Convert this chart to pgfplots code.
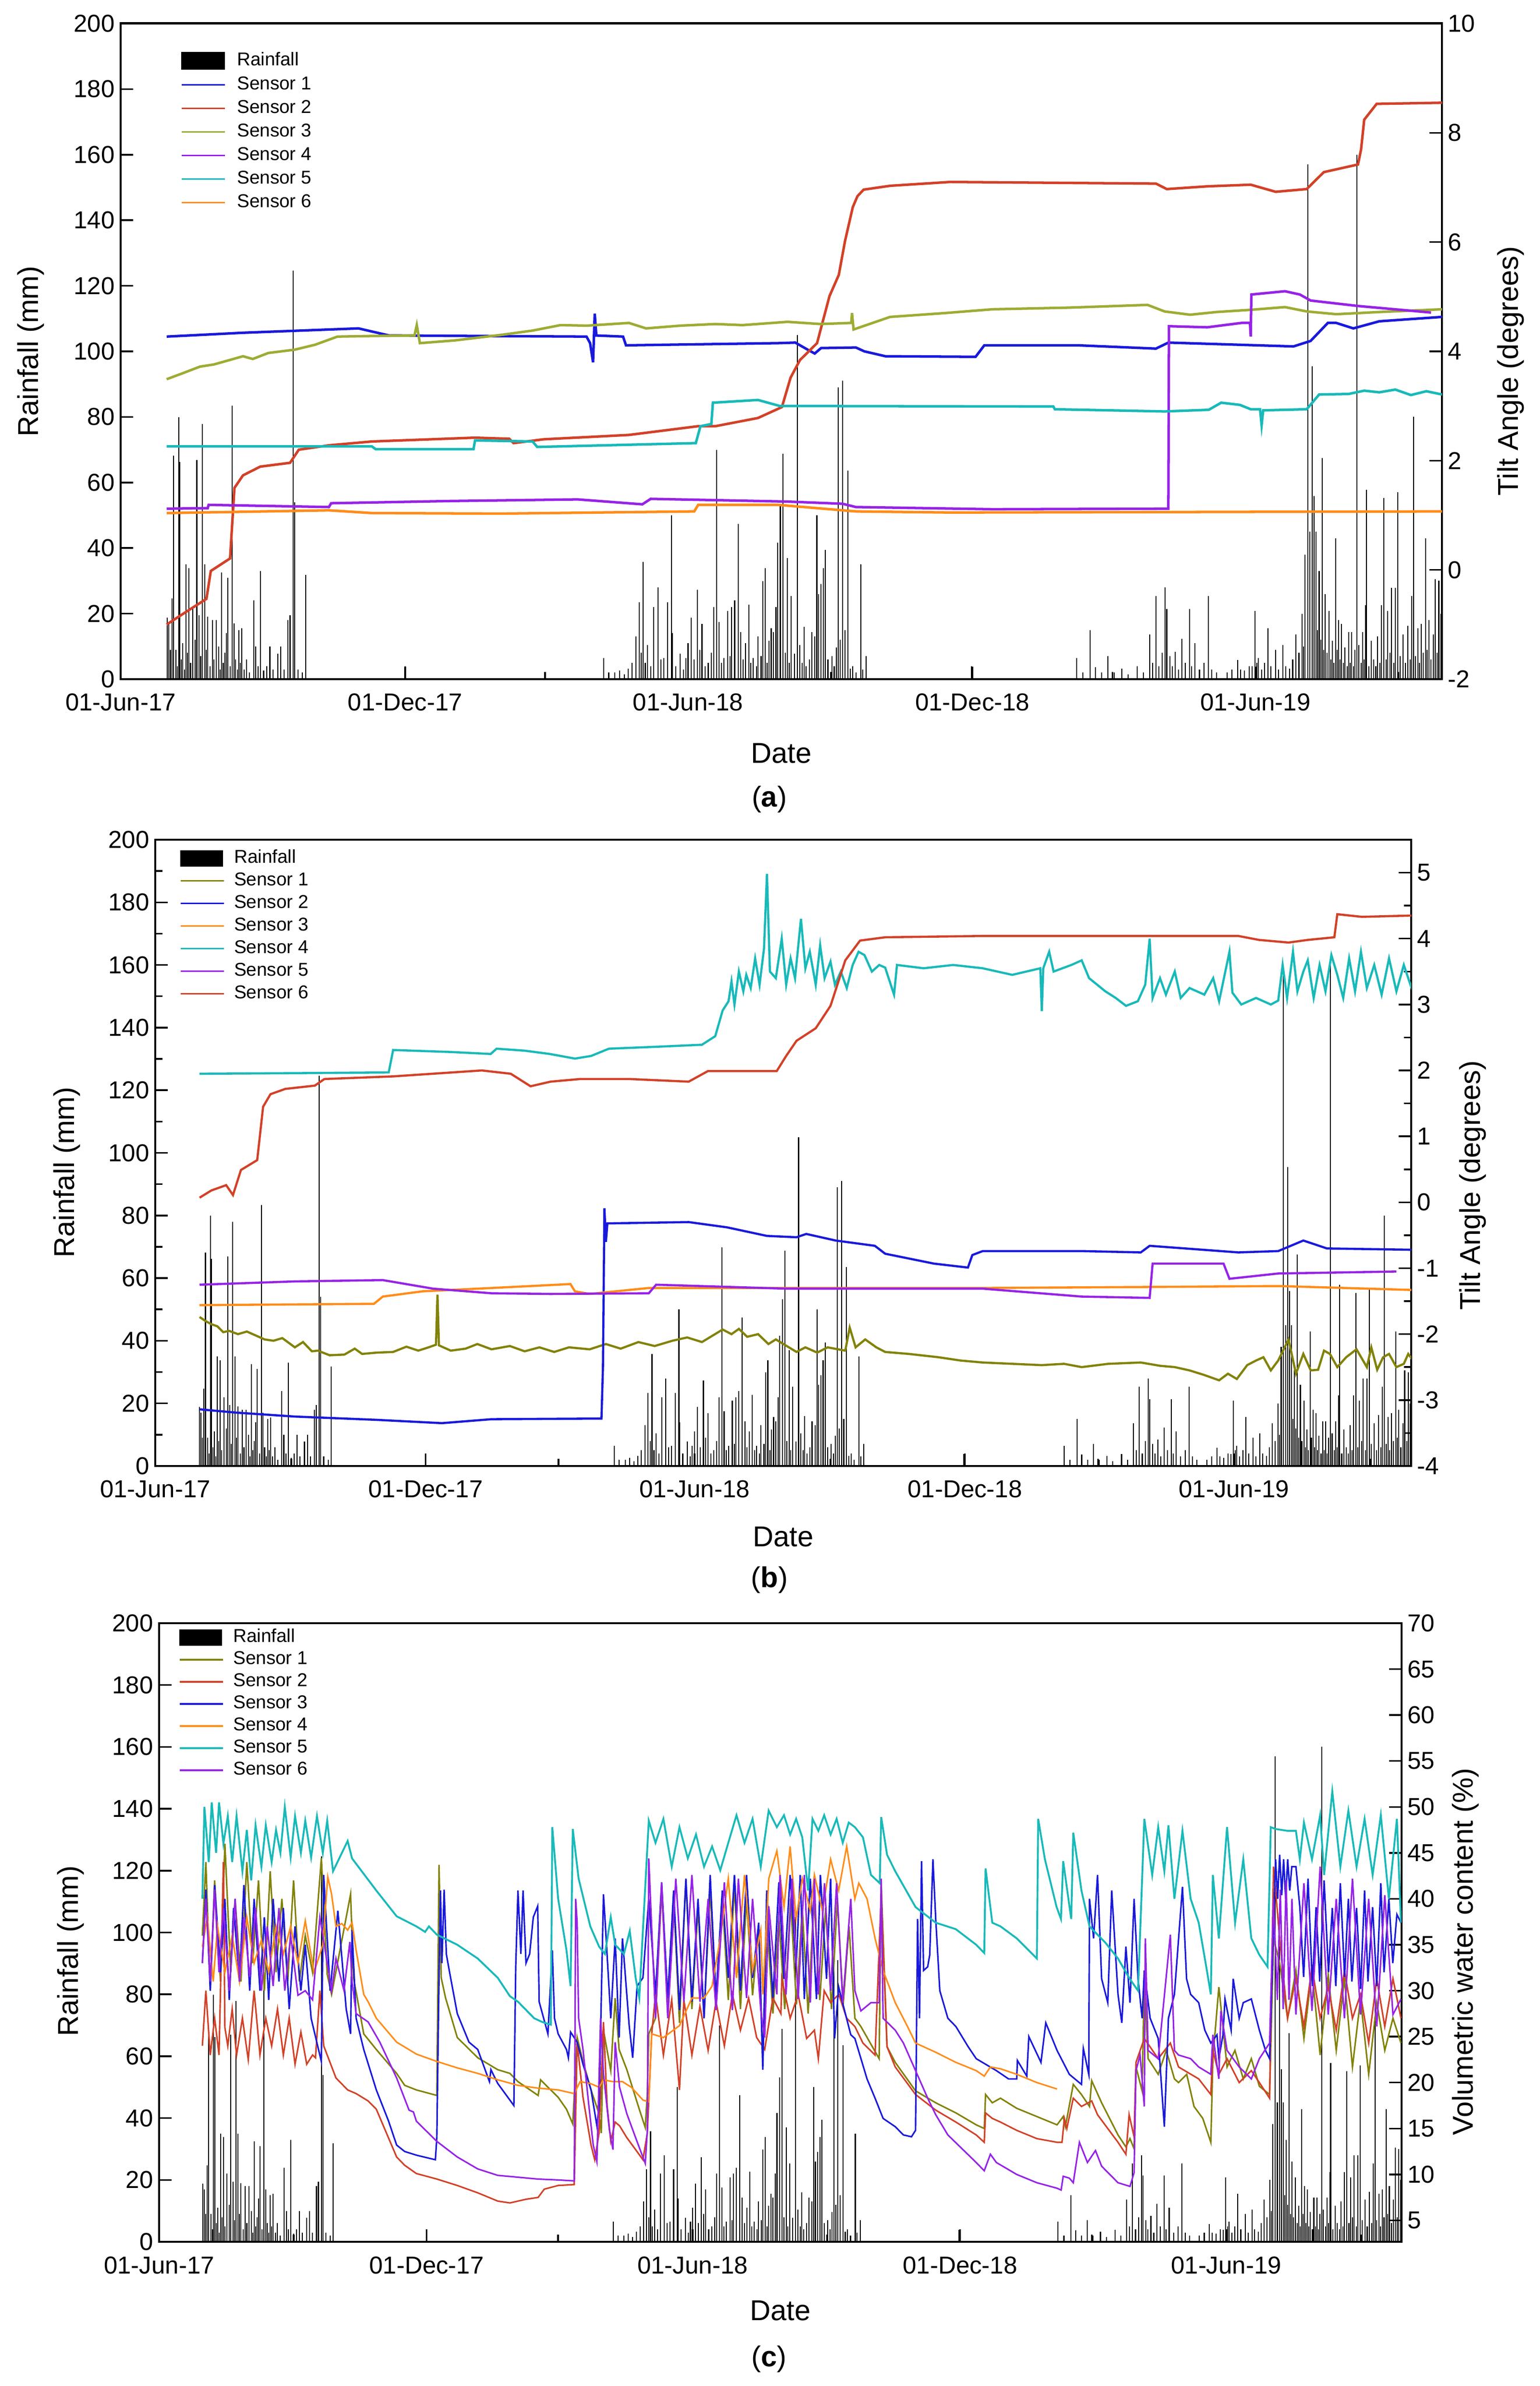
\documentclass[border=0pt]{standalone}
\usepackage{fontspec}
\setmainfont{Liberation Sans}
\usepackage{pgfplots}
\usepackage{pgfplotstable}
\pgfplotsset{compat=1.18}
\definecolor{cBlue}{RGB}{25,25,220}
\definecolor{cRed}{RGB}{210,65,40}
\definecolor{cGreen}{RGB}{158,172,52}
\definecolor{cPurple}{RGB}{150,35,230}
\definecolor{cCyan}{RGB}{25,185,185}
\definecolor{cOrange}{RGB}{255,140,25}
\definecolor{cOlive}{RGB}{130,130,10}

\pgfplotstableread{
day mm
30 18.8
31 17
32 9
33 24.7
34 68.2
35.5 9
36.5 4
37.3 79.9
38 66.2
39 6
40 11
41 3
42 35
43 8
44 33.8
45 5
46.5 22
48 12
49 66.9
50.5 19.5
51.5 7
52.5 77.9
54 35
55 9
56 19
57.5 4
59 18
60 6
61.5 18
63 10
64 3
65 32.5
66 5
67 8
68 14
69 31
70.5 4
71.8 83.4
73 17
74 6
75 3
76 15
77 5
78 15.5
79.5 3
81 6
83 2
85.6 24
87 10
88.5 4
90 33
92 2.6
94 4
96 10
98 3
101 7.8
103 10
105 3
107.7 18
109 19.5
111 124.7
112 54
114 3
117 2
119 31.8
183 4
273 2
310.8 6.5
314 2
318 2
321 2.6
324 1.5
326.5 3.2
329 5
331.5 13
333.5 23.4
335 8
336.2 35.7
337.5 5
339 10.4
341 4
343 22
345.6 28
347.5 6
349.5 6.5
352 23.4
354.4 50
355 14
357 4
360 7.8
362 3
363.5 6.5
365 11
367 18.8
369 6
371 27.3
372.5 9
374 16.9
376 4
378 5
380 8
381.5 22
383.4 69.9
385 17.5
386.5 5
388 6.5
390.5 20.8
392 7
393 22
395 24
397.2 47.4
399 14.3
400.5 6
402 11
404 22.7
405.5 5
407 6.5
409 4
410 13
412 7
413 29.9
414.6 33.8
416 5
417 11.7
418.5 15.6
420 14.3
421.6 22
422.7 41.6
424.4 53.2
426.2 68.8
427.5 8
429 37
430 5
431.3 25.3
433.5 7.8
435.4 105
437 10.4
438.5 5
439.6 16
441 4
443 6
444.5 14.3
446.5 13
447.9 50
449 26
450.6 29
452 33.8
453.4 39.5
455 6
457.5 7
459 4
460.3 9.6
461.7 89
463 12
464.4 91
466 15
467.8 63.6
469.4 3.2
471 4
473 2
476.3 35
477.5 3
479.6 7
547.3 3.9
615 6.5
619 2
623.8 15
627 3.7
631 2
635 7
639 2
644 3.2
648 1.5
654 3.9
658 2
662 13.6
664 5
666 25.3
668 4
670 8
672 28
673 21.4
675 7
676.5 4
678.5 8.4
680.5 3
682.7 12.3
685 5
687.6 21.4
689 4
691 11
694 3
697 5
699.8 25.3
702 3
705 2
711.7 2
715 3
718.6 5.8
720.5 3
723 2.6
726 4
728 3.9
729.6 20.8
731 5
732 6.5
734 3
736 5
738 15.6
740 4
743 9
745 3
747.6 10.4
749.5 4
752 3.2
754 6
756 13.6
758 8
760 20
761 10
762 38
763.6 157
765 45
766.4 95.5
767.7 55.8
769 45
770 15
771 33
772 12
773 67.5
774 9
775 26
776 8
777.4 20.8
778.5 6
779.5 11.7
780.5 5
781.6 42.9
782.5 9
783.5 18
784.5 6
785.5 16.9
786.5 5
787.5 9.7
789 4
790 14.3
791 5
792 14.3
793 4
794 9
795.4 160
796.5 10.4
798 5
799 14.3
800 6
801 22.6
801.5 57.8
803 4
804.5 11.7
806 6
807.5 4
808.6 13
810 5
811 22.6
812.5 55.2
814 6
815 20.8
816.5 8
817.5 27.9
819 5
820 27.9
821.6 57
823 7
825 13.6
826.5 5
828 16.2
829.5 6
830.5 25.3
831.8 80
833 7
834.5 15.6
835.5 5
836.7 16.9
838 8
839.6 42.9
840.5 9
841.6 18
843 6
844.4 13.6
845.6 30.5
847 8
848 30
849.3 20
}\rain

\pgfplotsset{
  panel/.style={scale only axis, xmin=0, xmax=850, clip mode=individual,
    /pgf/number format/assume math mode=true,
    tick align=inside, major tick length=2.6mm, minor tick length=1.5mm,
    tick style={black, line width=1pt},
    tick label style={font=\fontsize{14.5}{17}\selectfont},
    label style={font=\fontsize{17}{20}\selectfont},
    axis line style={line width=1.4pt},
    no markers},
  rainaxis/.style={panel, ymin=0, ymax=200, ytick={0,20,...,200}, ytick pos=left, xtick pos=left,
    xtick={0,183,365,548,730},
    xticklabels={01-Jun-17,01-Dec-17,01-Jun-18,01-Dec-18,01-Jun-19},
    xticklabel style={yshift=-1.8mm},
    minor xtick={92,273,457,638,822}, xlabel={Date}, ylabel={Rainfall (mm)}},
  lineaxis/.style={panel, axis y line*=right, axis x line=none, legend cell align=left,
    legend image code/.code={\draw[##1,line width=0.9pt] (0mm,0mm) -- (9mm,0mm);}},
  rainplot/.style={ycomb, black, line width=0.6pt},
}

\begin{document}
\begin{tikzpicture}
\useasboundingbox (0,0) rectangle (320.4mm,496.4mm);

% ================= panel (a) =================
\begin{axis}[rainaxis, at={(25.1mm,355.1mm)}, anchor=south west,
  width=274.9mm, height=136.4mm,
  xlabel style={at={(axis description cs:0.5,-0.113)}, anchor=center},
  ylabel style={at={(axis description cs:-0.068,0.5)}, anchor=center}]
\addplot[rainplot] table {\rain};
\node[font=\fontsize{17}{20}\selectfont] at (axis description cs:0.491,-0.183) {(\textbf{a})};
\end{axis}
\begin{axis}[lineaxis, at={(25.1mm,355.1mm)}, anchor=south west,
  width=274.9mm, height=136.4mm, ymin=-2, ymax=10, ytick={-2,0,...,10},
  ylabel={Tilt Angle (degrees)},
  ylabel style={at={(axis description cs:1.052,0.47)}, anchor=center},
  legend style={at={(axis description cs:0.0455,0.9567)}, anchor=north west, draw=none, fill=none,
    inner sep=0pt, outer sep=0pt, font=\fontsize{11}{13}\selectfont, row sep=1.3mm,
    nodes={inner sep=0pt, text height=2.8mm, text depth=0.8mm},
    /tikz/every odd column/.style={column sep=2.4mm}}]
\addlegendimage{legend image code/.code={\fill[black] (0mm,-1.8mm) rectangle (9mm,1.8mm);}}
\addlegendentry{Rainfall}
\addplot[cBlue, line width=1.5pt] coordinates {(29.6,4.27) (78.7,4.34) (153,4.42) (172.7,4.29) (299.7,4.27) (302,4.15) (303.9,3.80) (305,4.69) (306,4.29) (323.2,4.27) (325.1,4.11) (423,4.15) (434,4.16) (442,4.03) (446.5,3.96) (450.6,4.06) (473,4.07) (478.4,4.00) (492,3.91) (550,3.90) (555.6,4.11) (616,4.11) (666,4.05) (674,4.16) (754.5,4.09) (765.5,4.19) (776.6,4.52) (782,4.52) (793,4.42) (809.7,4.55) (850,4.63)};
\addlegendentry{Sensor 1}
\addplot[cRed, line width=1.5pt] coordinates {(29.6,-1.00) (44.2,-0.73) (55.2,-0.53) (58,-0.02) (70.4,0.21) (73.2,1.50) (78.7,1.73) (89.8,1.89) (109,1.96) (114.6,2.20) (134,2.28) (161.6,2.35) (227.9,2.42) (250,2.40) (252.8,2.32) (272,2.39) (327,2.47) (371.5,2.63) (382.6,2.63) (410,2.78) (425.4,2.98) (431,3.52) (437,3.84) (448,4.15) (456,5.01) (462,5.40) (466,6.02) (471,6.64) (474,6.84) (478,6.96) (495,7.03) (533.5,7.10) (666,7.07) (673,6.97) (699,7.02) (727,7.05) (743,6.92) (763,6.97) (774,7.28) (796,7.42) (798,7.7) (800,8.24) (808,8.53) (850,8.55)};
\addlegendentry{Sensor 2}
\addplot[cGreen, line width=1.5pt] coordinates {(29.6,3.49) (40,3.6) (51,3.72) (60,3.76) (78.7,3.91) (85,3.86) (95,3.97) (111.9,4.03) (125,4.12) (139.5,4.27) (160,4.28) (189,4.29) (190.5,4.48) (192.5,4.15) (215,4.2) (244.5,4.30) (265,4.38) (283,4.48) (300,4.47) (327,4.52) (338,4.42) (360,4.47) (382.6,4.50) (400,4.48) (429,4.54) (450,4.5) (470,4.52) (470.5,4.70) (471.5,4.40) (495,4.63) (530,4.7) (561,4.77) (610,4.8) (660.6,4.85) (671.6,4.73) (688,4.67) (705,4.72) (727,4.76) (749,4.81) (763,4.73) (782,4.68) (810,4.72) (850,4.77)};
\addlegendentry{Sensor 3}
\addplot[cPurple, line width=1.5pt] coordinates {(29.6,1.12) (56,1.13) (56.6,1.19) (134,1.15) (135.4,1.22) (211,1.26) (294,1.29) (335.6,1.20) (341,1.30) (429,1.25) (464.4,1.21) (473,1.15) (561,1.11) (671.6,1.12) (674,1.12) (674.4,4.46) (699,4.44) (721,4.52) (726.5,4.52) (727,4.27) (727.4,5.04) (749,5.10) (758.6,5.04) (765.5,4.93) (796,4.83) (843,4.71)};
\addlegendentry{Sensor 4}
\addplot[cCyan, line width=1.5pt] coordinates {(29.6,2.26) (161.6,2.26) (164,2.21) (227,2.21) (228,2.37) (265,2.35) (268,2.25) (370,2.32) (373,2.63) (380,2.67) (381,3.06) (410,3.11) (424,3.00) (600,2.99) (601,2.94) (671.6,2.90) (700,2.93) (708,3.06) (720,3.02) (727,2.94) (733,2.94) (734,2.65) (735,2.92) (763,2.94) (771,3.21) (790,3.22) (800,3.28) (809.7,3.25) (820,3.3) (830,3.2) (840,3.27) (850,3.21)};
\addlegendentry{Sensor 5}
\addplot[cOrange, line width=1.5pt] coordinates {(29.6,1.04) (134,1.09) (161.6,1.04) (244,1.03) (369,1.07) (371.5,1.19) (423,1.19) (473,1.07) (533.5,1.05) (850,1.07)};
\addlegendentry{Sensor 6}
\end{axis}

% ================= panel (b) =================
\begin{axis}[rainaxis, at={(32.3mm,191.4mm)}, anchor=south west,
  width=261.3mm, height=130.3mm, minor y tick num=1,
  xlabel style={at={(axis description cs:0.5,-0.113)}, anchor=center},
  ylabel style={at={(axis description cs:-0.0704,0.469)}, anchor=center}]
\addplot[rainplot] table {\rain};
\node[font=\fontsize{17}{20}\selectfont] at (axis description cs:0.489,-0.182) {(\textbf{b})};
\end{axis}
\begin{axis}[lineaxis, at={(32.3mm,191.4mm)}, anchor=south west,
  width=261.3mm, height=130.3mm, ymin=-4, ymax=5.5, ytick={-4,-3,...,5}, minor y tick num=1,
  ylabel={Tilt Angle (degrees)},
  ylabel style={at={(axis description cs:1.049,0.448)}, anchor=center},
  legend style={at={(axis description cs:0.0195,0.984)}, anchor=north west, draw=none, fill=none,
    inner sep=0pt, outer sep=0pt, font=\fontsize{11}{13}\selectfont, row sep=1.1mm,
    nodes={inner sep=0pt, text height=2.8mm, text depth=0.8mm},
    /tikz/every odd column/.style={column sep=2.0mm}}]
\addlegendimage{legend image code/.code={\fill[black] (0mm,-1.6mm) rectangle (8.8mm,1.6mm);}}
\addlegendentry{Rainfall}
\addplot[cOlive, line width=1.3pt] coordinates {(30,-1.74) (34,-1.80) (38,-1.85) (42,-1.88) (46,-1.97) (50,-1.95) (56,-2.0) (62,-1.96) (68,-2.02) (74,-2.08) (80,-2.1) (86,-2.06) (94.5,-2.20) (100,-2.12) (106,-2.26) (110,-2.25) (118,-2.32) (128,-2.31) (135,-2.22) (140,-2.3) (150,-2.28) (161,-2.27) (170,-2.19) (178,-2.25) (185,-2.2) (190,-2.16) (191,-1.40) (192,-2.17) (200,-2.25) (210,-2.22) (218,-2.15) (227.6,-2.23) (240,-2.18) (250,-2.26) (260,-2.2) (270,-2.27) (280,-2.2) (294,-2.23) (305,-2.15) (315,-2.22) (327,-2.12) (338,-2.18) (350,-2.1) (360,-2.05) (370,-2.12) (384,-1.93) (390,-2.0) (395,-1.92) (400.6,-2.04) (408,-2.0) (415,-2.15) (420,-2.08) (434,-2.27) (440,-2.2) (448,-2.28) (455,-2.2) (467,-2.25) (470,-1.9) (474,-2.2) (480.5,-2.08) (488,-2.2) (494,-2.27) (510,-2.3) (530,-2.35) (545,-2.4) (560,-2.43) (580,-2.45) (600,-2.47) (615,-2.45) (627,-2.50) (645,-2.45) (667,-2.43) (680,-2.48) (690,-2.5) (700,-2.55) (710,-2.62) (720,-2.70) (726,-2.6) (732,-2.68) (739,-2.47) (745,-2.4) (750,-2.35) (755,-2.55) (760,-2.4) (767,-2.08) (772,-2.6) (777,-2.3) (782,-2.55) (787,-2.54) (791,-2.25) (795,-2.3) (800,-2.5) (806,-2.35) (813,-2.23) (820,-2.5) (823,-2.2) (827,-2.54) (831,-2.35) (835,-2.3) (840,-2.5) (845,-2.45) (848,-2.3) (851,-2.39)};
\addlegendentry{Sensor 1}
\addplot[cBlue, line width=1.3pt] coordinates {(30,-3.14) (54.6,-3.19) (94.5,-3.25) (150,-3.3) (194,-3.35) (227.6,-3.29) (302,-3.28) (303,-2.5) (304,-0.09) (305,-0.6) (306,-0.32) (361,-0.30) (387,-0.38) (414,-0.51) (434,-0.53) (440.6,-0.48) (460.5,-0.58) (487,-0.66) (494,-0.78) (527,-0.93) (550,-0.99) (553,-0.8) (560,-0.74) (627,-0.74) (667,-0.76) (673,-0.66) (733,-0.76) (760,-0.74) (777,-0.58) (793,-0.70) (851,-0.72)};
\addlegendentry{Sensor 2}
\addplot[cOrange, line width=1.3pt] coordinates {(30,-1.56) (148,-1.54) (154,-1.43) (181,-1.35) (227.6,-1.30) (281,-1.24) (284,-1.35) (294,-1.39) (334,-1.30) (560,-1.30) (700,-1.28) (760,-1.27) (851,-1.33)};
\addlegendentry{Sensor 3}
\addplot[cCyan, line width=1.3pt] coordinates {(30,1.95) (100,1.96) (158,1.97) (161,2.31) (200,2.28) (227,2.25) (231,2.33) (250,2.30) (267,2.25) (284,2.18) (295,2.22) (307,2.33) (340,2.36) (370,2.39) (379,2.52) (384,2.91) (388,3.05) (390,3.35) (392,3.0) (395,3.5) (398,3.2) (400,3.45) (403,3.25) (406,3.7) (409,3.3) (412,3.85) (414,4.98) (416,3.5) (420,3.4) (424,4.0) (427,3.3) (430,3.7) (433,3.4) (437,4.3) (440,3.55) (443,3.8) (447,3.3) (450,3.9) (453,3.4) (457,3.65) (460,3.3) (464,3.5) (468,3.25) (472,3.6) (476,3.8) (480,3.75) (485,3.5) (490,3.6) (494,3.56) (500,3.15) (502,3.6) (520,3.55) (540,3.6) (560,3.55) (580,3.45) (599,3.55) (600,2.9) (601,3.55) (605,3.8) (608,3.5) (620,3.6) (627,3.67) (632,3.4) (643,3.2) (650,3.1) (657,2.98) (665,3.05) (670,3.3) (673,4.0) (675,3.1) (680,3.4) (684,3.15) (690,3.5) (694,3.1) (700,3.25) (710,3.15) (716,3.4) (720,3.05) (727,3.8) (729,3.18) (735,3.0) (745,3.1) (755,3.0) (760,3.06) (763,3.6) (766,3.1) (770,3.8) (773,3.2) (777,3.5) (780,3.67) (784,3.1) (788,3.6) (792,3.2) (796,3.75) (800,3.45) (804,3.1) (808,3.7) (812,3.2) (816,3.8) (820,3.25) (825,3.6) (830,3.15) (835,3.7) (840,3.2) (845,3.6) (851,3.2)};
\addlegendentry{Sensor 4}
\addplot[cPurple, line width=1.3pt] coordinates {(30,-1.25) (94.5,-1.20) (154,-1.18) (188,-1.31) (227.6,-1.38) (267.5,-1.39) (334,-1.38) (339,-1.25) (427,-1.31) (560,-1.31) (627,-1.43) (673,-1.45) (675,-0.93) (723,-0.93) (727,-1.16) (760,-1.08) (840,-1.05)};
\addlegendentry{Sensor 5}
\addplot[cRed, line width=1.3pt] coordinates {(30,0.07) (38,0.18) (48,0.26) (52.6,0.11) (58,0.49) (69,0.64) (73,1.45) (78,1.64) (88,1.72) (108,1.77) (114.5,1.87) (161,1.91) (221,2.00) (240.6,1.95) (254,1.76) (267.5,1.83) (287.5,1.87) (321,1.87) (361,1.83) (374,1.99) (420.6,1.99) (427,2.22) (434,2.45) (447,2.64) (457,2.98) (467,3.67) (477,3.97) (494,4.02) (560,4.04) (733,4.04) (747,3.98) (767,3.94) (780,3.98) (798,4.02) (800,4.37) (816.6,4.33) (851,4.35)};
\addlegendentry{Sensor 6}
\end{axis}

% ================= panel (c) =================
\begin{axis}[rainaxis, at={(33.1mm,30.0mm)}, anchor=south west,
  width=258.5mm, height=128.7mm,
  xlabel style={at={(axis description cs:0.5,-0.111)}, anchor=center},
  ylabel style={at={(axis description cs:-0.0712,0.47)}, anchor=center}]
\addplot[rainplot] table {\rain};
\node[font=\fontsize{17}{20}\selectfont] at (axis description cs:0.491,-0.19) {(\textbf{c})};
\end{axis}
\begin{axis}[lineaxis, at={(33.1mm,30.0mm)}, anchor=south west,
  width=258.5mm, height=128.7mm, ymin=2.67, ymax=70, ytick={5,10,...,70},
  ylabel={Volumetric water content (\%)},
  ylabel style={at={(axis description cs:1.0515,0.469)}, anchor=center},
  legend style={at={(axis description cs:0.0159,0.9907)}, anchor=north west, draw=none, fill=none,
    inner sep=0pt, outer sep=0pt, font=\fontsize{11}{13}\selectfont, row sep=1.0mm,
    nodes={inner sep=0pt, text height=2.8mm, text depth=0.8mm},
    /tikz/every odd column/.style={column sep=2.0mm}}]
\addlegendimage{legend image code/.code={\fill[black] (0mm,-1.6mm) rectangle (8.8mm,1.6mm);}}
\addlegendentry{Rainfall}
\addplot[cOlive, line width=0.9pt] coordinates {(29.6,36) (32,44) (35,30) (38,42) (42,31) (45,46) (49,32) (52,40) (56,31) (60,44) (64,33) (68,42) (72,30) (76,43) (80,32) (84,40) (88,31) (92,42) (96,31) (100,36) (105,32) (111,44.4) (115,31.8) (118,29.6) (131,40.5) (133,31.4) (140,25.3) (148.6,23.6) (162.5,21) (168,19.7) (176,19.2) (190,18.6) (191.5,43.7) (193,31.4) (196,29.2) (204,24.9) (218,22.7) (231.7,21.4) (240,21) (245.5,20.1) (259.3,18.6) (261,20.3) (266,19.5) (273,18.4) (278.7,17.1) (283,15.5) (286,24.9) (290,22.3) (295.5,19.2) (301,16.6) (302.5,14.5) (304,25.7) (309,21.3) (312,29.2) (314.7,23.6) (320,21.4) (328.5,17.1) (332.6,15.1) (334,18.8) (335,25.3) (339.6,27) (343.8,41) (348,28) (352,40) (356,26.5) (360.4,42) (364.5,28) (368.7,39) (372.8,27) (377,41) (381,28.5) (385.3,40) (389.4,29) (393.6,41.5) (397.7,28) (401.9,40) (406,29.5) (410.2,37) (413,22) (415.7,38) (419.9,27.5) (424,38) (428,28) (432,40) (436,28.5) (440,39) (444,27.5) (448,40) (452,29) (456,39) (460,28) (464,40) (468,28.5) (472,37) (476,27) (480.1,26.1) (492.6,22.6) (494,41.7) (498,23.9) (503.6,22.2) (517.5,19.1) (531.3,17.8) (545.1,16.7) (559,15.4) (564.5,15) (565.4,18.7) (570,17.8) (575.6,18.3) (586.7,17.2) (600.5,16.3) (614.3,15.4) (618.5,16.3) (620,15.2) (625.4,19.8) (631,18.7) (636.5,17.4) (638,20.2) (644.8,17.8) (656,14.3) (661.4,13) (664.2,13.9) (667,12.8) (668.3,21.7) (672.5,19.1) (674,31.3) (676.6,22.6) (683.5,20.9) (689,23.5) (694.6,20.4) (697.4,20) (703,20.9) (708,17.4) (714,16.1) (719.5,13.5) (720.9,22.6) (725,30.4) (730.6,21.7) (736,23.5) (741.7,20.4) (747.2,22.6) (752.7,19.6) (759.7,18.7) (762.4,35.7) (766.6,33) (772,27) (777.7,32.2) (783.2,24.8) (788.7,32.2) (794.3,23) (799.8,31.7) (805.3,23.5) (810.9,31.3) (816.4,21.7) (821.9,29.1) (827.5,20.9) (833,28.7) (838.5,23.5) (844.1,27) (849.6,24.3)};
\addlegendentry{Sensor 1}
\addplot[cRed, line width=0.9pt] coordinates {(29.6,24) (32,30) (35,23) (38,27) (41,23) (44,44) (45,26) (47,24) (50,28) (53,23) (57,27) (61,22.5) (65,30) (69,23) (73,27) (77,24) (81,28) (85,23) (89,27) (93,22) (97,25.5) (101,22) (105,23) (107,22.7) (110,30) (112.6,24) (121,20.5) (129,19.2) (134.8,18.8) (143,18) (148.6,17.1) (162.5,11.9) (168,11) (176,10.1) (190,9.5) (204,8.8) (218,8) (231.7,7.1) (240,6.9) (251,7.3) (259.3,7.5) (263.5,8.4) (273,8.8) (284,8.9) (286,24.4) (290,18.4) (295.5,13.2) (298,11.6) (301,14.5) (304,26.6) (306.5,17.5) (309,13.6) (312,15.7) (315,15.3) (320,14) (326,12.7) (331,11.6) (334,14.5) (337,25.3) (339.6,29.6) (345,23) (350.7,29) (356,19.2) (359,29) (364.5,23) (370,28.3) (375.6,23.5) (381,28.8) (386.7,24) (392.2,29.6) (397.7,25.7) (403.3,29.2) (408.8,24.9) (414.3,23.6) (419.9,29.2) (425.4,27.5) (426,31.3) (431.7,27) (437.2,29.6) (443,24.8) (448.3,25.7) (451,22.6) (455,30) (459.4,28.7) (465,29.6) (470.4,27) (476,26.1) (481.5,24.3) (489.8,23) (494,40.4) (498,23.9) (503.6,21.7) (517.5,18.7) (531.3,17) (545.1,15.7) (559,14.3) (564.5,13.5) (565.4,16.7) (570,16.1) (575.6,15.7) (586.7,14.8) (600.5,13.9) (614.3,13.5) (617.7,13.5) (619.3,16.1) (621,15) (625.4,18.3) (631,17.4) (638,18) (642,16.5) (656,13.5) (661.4,12.2) (663.6,16.5) (667,14.1) (668.3,22.2) (674,24.8) (683.5,22.6) (691.8,24.3) (697.4,21.7) (711.2,20.4) (719.5,18.7) (720.9,23.5) (725,20.9) (730.6,22.6) (738.9,20) (747.2,21.3) (752.7,20) (759.7,18.3) (762.4,43.5) (766.6,35.7) (772,27) (777.7,31.3) (783.2,26.1) (788.7,32.6) (794.3,27) (799.8,30.4) (805.3,25.7) (810.9,32.2) (816.4,27) (821.9,29.6) (827.5,24.3) (833,31.3) (838.5,26.1) (844.1,31.3) (849.6,27)};
\addlegendentry{Sensor 2}
\addplot[cBlue, line width=0.9pt] coordinates {(29.6,33) (32,41) (35,30) (38,41.5) (42,32) (45,40) (48,29) (51,39) (55,31) (58,41.5) (62,30) (65,40) (69,30) (72,38) (75,29) (78,40) (82,31) (85,39) (89,28) (93,37) (97,30) (100,35) (104,27) (111,22.3) (112.6,42.6) (117,30) (122.3,38.7) (128,28) (131,25.3) (132,36.6) (134.8,27) (140,23.6) (148.6,19.2) (157,15.8) (162.5,13.2) (168,12.5) (176,12.1) (189,11.6) (190,14) (191.5,31.4) (192.5,40.9) (193.5,33) (195,41) (196.5,34) (198.5,32.2) (204,27.5) (212,24.4) (218,23.6) (226,20.1) (227,21.4) (231.7,19.9) (242.7,17.5) (244,32.7) (245.5,40.9) (247.5,34) (249,40.9) (251,33) (253.5,34) (256,38) (259,39.2) (260,28.8) (266,25.3) (269,34.4) (270.5,27) (273,25.3) (278.7,23.6) (280,22.7) (281.5,25.5) (286,24.4) (290,22) (295.5,19.2) (299.5,15.3) (301,17.5) (304,40.5) (305.5,36.6) (309,27) (312,35.7) (314.7,24.9) (317,35.7) (321.6,26.2) (324,22.7) (327,30.5) (331,31.4) (335,40) (339.6,29.6) (343.8,41.8) (348,29.2) (352,40.9) (356,27.9) (360.4,42.2) (364.5,28.8) (368.7,40) (372.8,27) (377,42.6) (381,29.2) (385.3,40.9) (389.4,31.4) (393.6,42.6) (397.7,30) (401.9,42.6) (406,31.4) (410.2,37.4) (413,21.4) (415.7,40.9) (419.9,29.2) (424,41.8) (427.5,31.3) (431.7,42.6) (435.8,32.6) (438.6,42.6) (441.4,29.1) (445.5,42.2) (449.7,29.1) (452.4,42.6) (456.6,31.3) (459.4,42.2) (462.1,24.8) (464.9,30.4) (469,27.8) (473.2,25.2) (476,24.8) (484.3,20.4) (489.8,18.3) (495.3,16.1) (503.6,15.2) (509.2,14.3) (514.7,14.1) (517.5,14.8) (518.9,37.8) (520.2,27) (521.6,44.1) (523,32.2) (525.8,32.6) (527.2,33.9) (529.4,44.3) (531.3,37.8) (534.1,30) (539.6,27) (545.1,26.1) (553.5,23.9) (559,22.6) (572.8,21.3) (581.1,20.4) (586.7,20.4) (587.2,22.4) (593.6,20.7) (595,25) (603.3,22.2) (606.6,26.5) (614.3,23.5) (622.7,20.9) (631,19.8) (632.3,23.7) (636,20.9) (636.5,40) (639.3,35.7) (642,42.6) (644.8,31.3) (649,28.7) (651.7,40.9) (656,29.6) (658.6,26.5) (661.4,34.8) (664.2,28.7) (667,40) (669.7,31.3) (672.5,27) (674,32.2) (678,27) (683.5,24.8) (687.7,15.2) (690.5,27) (694.6,29.6) (700.1,41.3) (702.9,31.3) (705.7,29.6) (711.2,28.7) (715.4,25.7) (719.5,24.3) (723.7,25.2) (725,22.6) (727.8,25.2) (729.2,29.1) (733.4,25.7) (734.8,31.3) (738.9,27) (741.7,28.7) (747.2,29.1) (752.7,25.7) (756.9,23.5) (759.7,22.6) (763.8,44.3) (765.2,40) (766.6,44.8) (768,40.4) (769.3,44.3) (770.7,40) (772.1,44.3) (773.5,40.9) (774.9,43.5) (777.7,43.5) (780.4,39.1) (783,31.5) (786,42.2) (789,30.5) (791.5,39.1) (794,31) (797,42) (800,32) (802.6,39) (805,30.5) (808.1,41.7) (811,31.5) (813.6,40) (816,31) (819.2,39) (822,30.2) (824.7,40.9) (827,31) (830.2,39.1) (833,30.5) (835.8,41.7) (838,32) (841.3,40) (844,33) (846.8,38.3) (849.6,37.4)};
\addlegendentry{Sensor 3}
\addplot[cOrange, line width=0.9pt] coordinates {(29.6,34.8) (33,38) (37,31) (40,37) (45,32) (50,36) (55,31) (60,38) (65,33) (70,35.5) (75,32) (80,37) (85,34) (90,37) (95,33) (100,37.6) (106,32) (112,35) (115.4,42.4) (118,40.5) (121,37) (125,37.3) (129,36.6) (132,37.4) (134.8,34.4) (140,29.6) (143,28.8) (148.6,27) (162.5,24.4) (176,23.1) (190,22.3) (204,21.6) (218,21) (231.7,20.3) (245.5,19.7) (259,19.4) (273,19.2) (284,18.8) (288,20.1) (295,19.9) (301,19.5) (304,20.3) (310.5,20.1) (317,20.1) (323,19.5) (331,18.1) (335,17.9) (337,25.3) (345,24.9) (356,26.2) (364.5,29.2) (372.8,29.2) (378.3,30.5) (383.9,35.7) (389.4,42.2) (395,31.4) (400.5,42.6) (406,32.2) (411.6,36.6) (413,29.6) (417.1,42.2) (422.6,45.2) (423.4,44.3) (427.5,39.1) (431.7,45.7) (435.8,37.8) (440,42.2) (445.5,38.7) (448.3,42.6) (453.8,38.7) (459.4,44.3) (464.9,40.9) (470.4,45.7) (476,40) (478.7,41.7) (484.3,40) (489.8,35.7) (495.3,32.2) (503.6,28.7) (512,26.1) (517.5,24.3) (531.3,23.3) (545.1,22.2) (559,21.3) (564.5,20.7) (568.7,21.7) (575.6,21.5) (586.7,20.9) (600.5,20) (614.3,19.3)};
\addlegendentry{Sensor 4}
\addplot[cCyan, line width=1.1pt] coordinates {(29.6,40) (31,50) (34,44) (36,50.5) (39,45) (41,50.5) (44,46) (47,49) (50,44) (53,49) (57,43) (60,47.5) (63,42) (66,48) (70,43.5) (73,48) (77,44) (80,47.5) (83,45) (86,50) (90,44.5) (93,49) (97,45) (100,48.5) (104,44.5) (108,49) (112,45) (115,48.5) (119,43) (129,46.3) (132,44.4) (148.6,40.9) (162.5,38.1) (176,37) (182,36.4) (184.6,37) (190,36.1) (204,35) (218,33.5) (231.7,31.4) (240,29.4) (245.5,28.8) (256.6,27) (262,26.6) (268,26.3) (269,47.8) (273,40) (278.7,34.4) (281.5,30.5) (283,47.6) (287,42.2) (295,37) (301,34.8) (305,34) (309,38) (312,35) (318,34) (322,36.5) (326,31.4) (328.5,29.2) (335,48.5) (339.6,46.1) (345,48.7) (350.7,43.5) (356,47.8) (361.7,44.4) (367.3,47) (372.8,43.5) (378.3,45.7) (383.9,43.1) (389.4,46.1) (395,49.1) (400.5,46.1) (406,48.7) (411.6,43.5) (417,49.6) (422.6,47.8) (427.5,49.1) (431.7,47) (435.8,48.7) (440,46.7) (444,40.9) (447,48.7) (451,47.4) (455,49.1) (459.4,47) (463.5,48.7) (467.7,46.1) (471.8,48.3) (476,47.8) (481.5,46.7) (487,42.6) (493,41.7) (494,48.9) (498,44.8) (503.6,43) (517.5,39.1) (531.3,37.4) (545,36.7) (559,35) (564.5,34.1) (565.4,43.3) (570,37.4) (575.6,37) (586.7,35.7) (600.5,33.5) (601.4,48.7) (606,44.3) (614,39.1) (617,37.8) (618.5,44.1) (624,37.8) (625.4,47.2) (631,40.9) (636.5,37) (647.5,35.2) (656,33.5) (664,31.3) (669.7,30) (674,48.7) (679.4,42.6) (683.5,47.8) (687.7,43) (690.5,48) (694.6,40) (700.1,47.4) (705.7,40) (711.2,37.4) (716.8,32.2) (719.5,29.6) (720.9,42.6) (725,35.7) (730.6,47.8) (736.1,37.4) (741.7,44.3) (747.2,35.7) (752.7,33.9) (758.3,32.6) (760.5,47.8) (763.8,47.6) (772,47.4) (777.7,47.4) (780.4,44.3) (783.2,48.3) (788.7,44.3) (794.3,49.1) (797,42.6) (802.6,51.7) (808.1,43.5) (813.6,49.6) (819.2,43.5) (824.7,48.7) (830.2,42.6) (835.8,49.1) (841.3,40) (846.8,48.7) (849.6,37.4)};
\addlegendentry{Sensor 5}
\addplot[cPurple, line width=0.9pt] coordinates {(29.6,33) (32,40) (35,31) (38,41) (41,32) (44,39) (48,30) (52,40) (55,31) (58,38) (62,31.5) (66,39) (70,30) (74,37) (78,30.5) (82,39) (86,30) (90,36) (95,29.5) (100,30) (105,29) (110,38) (118,30) (121,33.5) (126.5,30) (130.5,35.3) (132,31) (134.8,27.5) (143,26.6) (151,24.4) (162.5,20.5) (171,17) (174,16.8) (176,15.8) (190,13.6) (204,11.9) (218,10.6) (231.7,9.9) (245.5,9.7) (259,9.5) (273,9.4) (284,9.3) (285,40) (286,37.4) (287,27) (290,23.6) (294,17.5) (297,13.2) (299.5,11.4) (302,27) (304,21) (308,14.9) (310.5,12.7) (312,24.4) (315,19.5) (320,16.6) (326,14) (332.6,11.2) (334,14.8) (335,44.4) (339.6,27) (343.8,41.8) (348,27) (353.5,42.2) (359,28.8) (364.5,42.6) (370,28.8) (375.6,40) (381,27.9) (386.7,41.8) (392.2,27.9) (396.3,42.2) (401.9,29.2) (406,40) (411.6,27.9) (414.3,24.9) (417.1,39.2) (422.6,29.6) (424.8,42.6) (428.9,29.6) (433,42.2) (437.2,29.1) (441.4,42.6) (445.5,28.7) (448.3,42.2) (451,29.6) (455.2,41.7) (459.4,30) (463.5,41.7) (467.7,28.7) (473.2,40) (476,30) (480.1,27.8) (487,28.7) (492.6,28.7) (494,42.2) (495.3,27) (503.6,25.7) (509.2,24.3) (517.5,21.3) (525.8,18.3) (531.3,16.5) (539.6,14.3) (548,13) (559,11.3) (564.5,10.4) (568.7,12.2) (572.8,11.3) (586.7,10) (600.5,9.1) (614.3,8.5) (617.1,8.3) (618.5,9.8) (622.7,9.6) (625.4,9.1) (629.6,13.5) (635.1,11.3) (640.6,12.6) (644.8,10.9) (656,9.1) (664.2,8.7) (667,10.2) (668.3,21.3) (671.1,23) (674,17.4) (674.7,35.7) (676.6,23.5) (683.5,22.6) (691.8,36.1) (694.6,23.5) (697.4,23) (705.7,22.6) (711.2,21.7) (719.5,20.9) (720.9,25.2) (725,20.4) (726.4,27.8) (730.6,23.5) (738.9,21.7) (747.2,20.4) (752.7,22.6) (759.7,24.3) (762.4,40) (765,29) (767,41) (769,28) (771,42) (773,29) (775,40) (777.7,27.4) (783.2,41.7) (788.7,27.8) (794.3,43.5) (799.8,27.4) (805.3,40) (810.9,27) (816.4,42.2) (821.9,27.4) (827.5,40) (833,26.1) (838.5,40.4) (844.1,27.4) (849.6,29.1)};
\addlegendentry{Sensor 6}
\end{axis}
\end{tikzpicture}
\end{document}
